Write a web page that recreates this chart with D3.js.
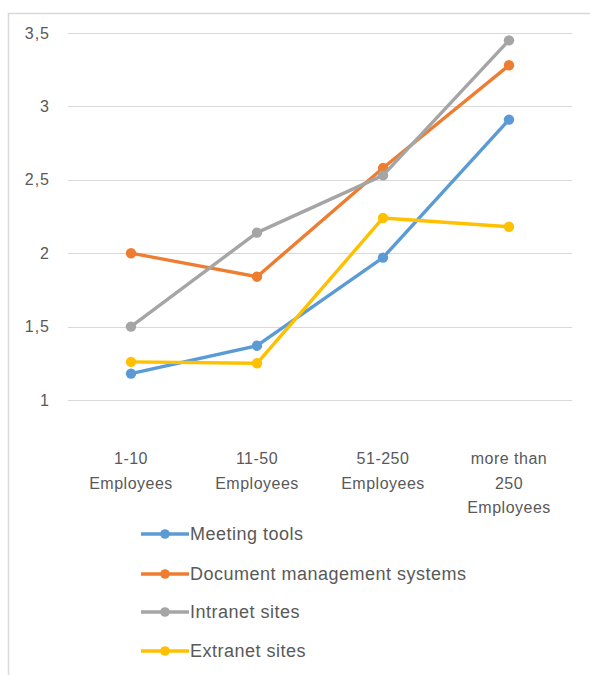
<!DOCTYPE html>
<html><head><meta charset="utf-8">
<script src="https://cdn.jsdelivr.net/npm/d3@7"></script>
<style>body{margin:0;background:#fff;} svg{display:block;}</style>
</head><body><svg id="c" width="590" height="675"></svg>
<script>
const categories = [["1-10","Employees"],["11-50","Employees"],["51-250","Employees"],["more than","250","Employees"]];
const seriesNames = ["Meeting tools","Document management systems","Intranet sites","Extranet sites"];
const meetingTools = [1.18, 1.37, 1.97, 2.91];
const documentMgmt = [2.0, 1.84, 2.58, 3.28];
const intranetSites = [1.5, 2.14, 2.53, 3.45];
const extranetSites = [1.26, 1.25, 2.24, 2.18];
const yTicks = [1, 1.5, 2, 2.5, 3, 3.5];
const colors = ["#5B9BD5","#ED7D31","#A5A5A5","#FFC000"];
const seriesValues = [meetingTools, documentMgmt, intranetSites, extranetSites];

const svg = d3.select("#c");
const font = "'Liberation Sans', Arial, sans-serif";
const textColor = "#595959";

// frame
svg.append("path").attr("d","M8.5,675 L8.5,13.5 L590,13.5").attr("fill","none").attr("stroke","#d9d9d9").attr("stroke-width",1.5);

const x = d3.scaleBand().domain(d3.range(categories.length)).range([68,572]);
const y = d3.scaleLinear().domain([1,3.5]).range([400,33]);

// grid
svg.append("g").selectAll("line").data(yTicks).join("line")
  .attr("x1",68).attr("x2",572).attr("y1",d=>Math.round(y(d))+0.5).attr("y2",d=>Math.round(y(d))+0.5)
  .attr("stroke","#d9d9d9").attr("stroke-width",1.2);

// y axis labels
const yAxis = d3.axisLeft(y).tickValues(yTicks).tickSize(0).tickPadding(0)
  .tickFormat(d=>String(d).replace(".",","));
const ga = svg.append("g").attr("transform","translate(50,0)").call(yAxis);
ga.select(".domain").remove();
ga.selectAll("text").attr("font-family",font).attr("font-size",16).attr("letter-spacing",1).attr("fill",textColor);

// x labels
const gx = svg.append("g");
categories.forEach((lines,i)=>{
  const cx = x(i)+x.bandwidth()/2;
  const t = gx.append("text").attr("x",cx).attr("y",464)
    .attr("text-anchor","middle").attr("font-family",font).attr("font-size",16).attr("letter-spacing",0.5).attr("fill",textColor);
  lines.forEach((l,j)=>t.append("tspan").attr("x",cx).attr("dy",j===0?0:24.5).text(l));
});

// lines
const line = d3.line().x((d,i)=>x(i)+x.bandwidth()/2).y(d=>y(d));
seriesValues.forEach((vals,s)=>{
  svg.append("path").datum(vals).attr("d",line).attr("fill","none")
    .attr("stroke",colors[s]).attr("stroke-width",3.4).attr("stroke-linejoin","round");
  svg.append("g").selectAll("circle").data(vals).join("circle")
    .attr("cx",(d,i)=>x(i)+x.bandwidth()/2).attr("cy",d=>y(d)).attr("r",5.2).attr("fill",colors[s]);
});

// legend
const legY = [534, 574, 612, 651];
seriesNames.forEach((n,s)=>{
  const g = svg.append("g").attr("transform",`translate(0,${legY[s]})`);
  g.append("line").attr("x1",141).attr("x2",189).attr("y1",0).attr("y2",0).attr("stroke",colors[s]).attr("stroke-width",3.4);
  g.append("circle").attr("cx",165).attr("cy",0).attr("r",4.8).attr("fill",colors[s]);
  g.append("text").attr("x",190).attr("y",6).attr("font-family",font).attr("font-size",18).attr("letter-spacing",0.5).attr("fill",textColor).text(n);
});
</script></body></html>
